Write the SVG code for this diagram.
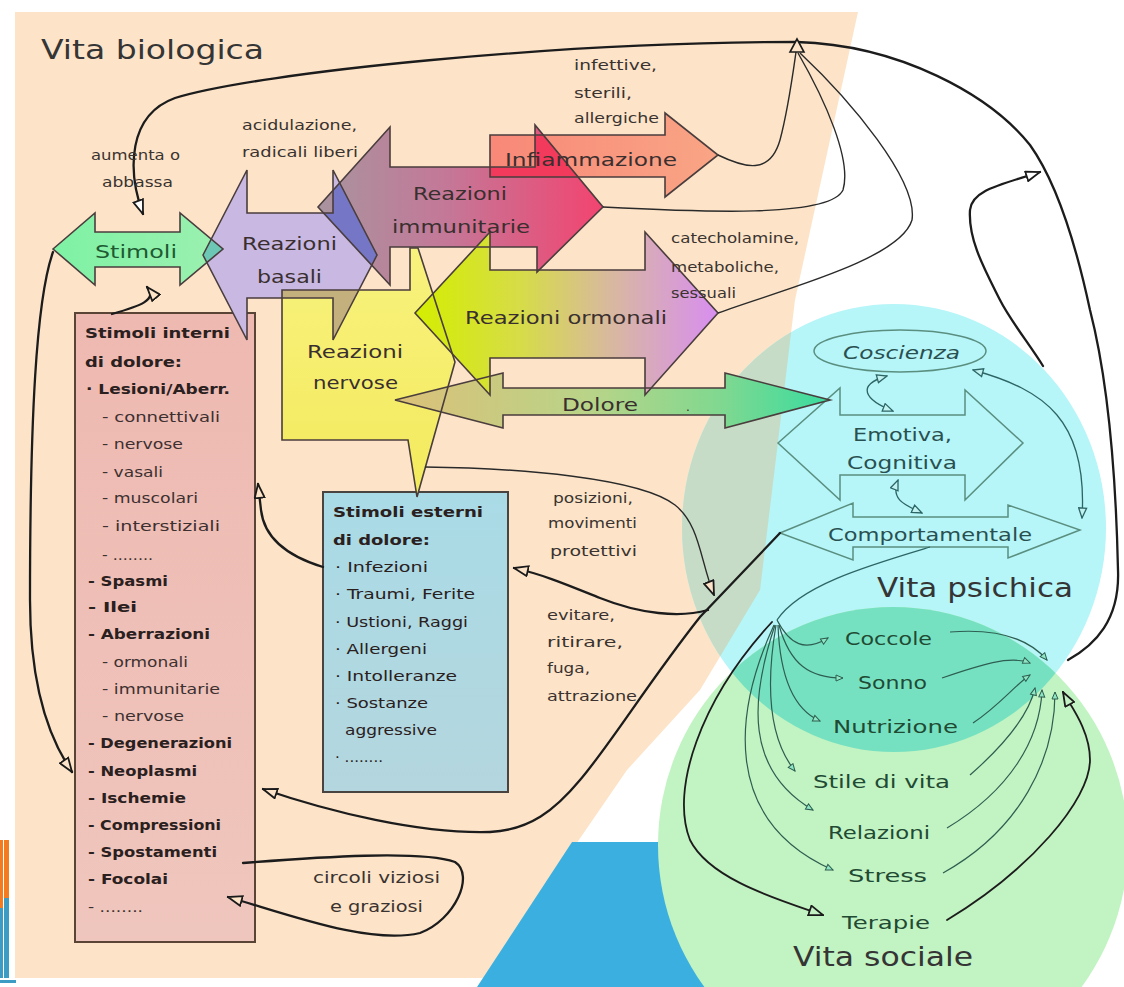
<svg xmlns="http://www.w3.org/2000/svg" width="1124" height="987" viewBox="0 0 1124 987">
<defs>
<style>
.t{font-family:"DejaVu Sans","Liberation Sans",sans-serif}
.big{font-size:27px;fill:#353535}
.lbl{font-size:17px;fill:#3a2f2f}
.sm{font-size:13.5px;fill:#3a3330}
.bx{font-size:14px;fill:#2a2020}
.b{font-weight:bold}
.sub{font-size:13.5px;fill:#3d3030}
.psy{font-size:17px;fill:#295050}
.soc{font-size:17px;fill:#1f4a33}
.ol{fill:none;stroke:#4a3d3d;stroke-width:1.6;stroke-linejoin:miter}
.pol{fill:none;stroke:#5a8f80;stroke-width:1.5}
.con{fill:none;stroke:#1c1c1c;stroke-width:2.3;stroke-linecap:round}
.thin{fill:none;stroke:#2a2a2a;stroke-width:1.4}
.tl{fill:none;stroke:#2d6565;stroke-width:1.3}
.sl{fill:none;stroke:#2e5e50;stroke-width:1.2}
</style>
<linearGradient id="gImm" gradientUnits="userSpaceOnUse" x1="318" y1="0" x2="603" y2="0"><stop offset="0" stop-color="#a8949e"/><stop offset="0.45" stop-color="#c47898"/><stop offset="1" stop-color="#f24470"/></linearGradient>
<linearGradient id="gInf" gradientUnits="userSpaceOnUse" x1="490" y1="0" x2="718" y2="0"><stop offset="0" stop-color="#f88878"/><stop offset="1" stop-color="#f9a585"/></linearGradient>
<linearGradient id="gOrm" gradientUnits="userSpaceOnUse" x1="415" y1="0" x2="718" y2="0"><stop offset="0" stop-color="#d4ee00"/><stop offset="0.35" stop-color="#d6dc48"/><stop offset="0.65" stop-color="#d8b8a0"/><stop offset="1" stop-color="#d88ef0"/></linearGradient>
<linearGradient id="gDol" gradientUnits="userSpaceOnUse" x1="395" y1="0" x2="830" y2="0"><stop offset="0" stop-color="#dcc078"/><stop offset="0.45" stop-color="#b8d488"/><stop offset="0.75" stop-color="#80d890"/><stop offset="1" stop-color="#38dca0"/></linearGradient>
<linearGradient id="gYel" x1="0" y1="0" x2="0" y2="1"><stop offset="0" stop-color="#f8f27e"/><stop offset="1" stop-color="#f3ea5c"/></linearGradient>
<linearGradient id="gStim" x1="0" y1="0" x2="1" y2="0"><stop offset="0" stop-color="#7ef2a4"/><stop offset="1" stop-color="#9cf0b0"/></linearGradient>
<linearGradient id="gInt" x1="0" y1="0" x2="0" y2="1"><stop offset="0" stop-color="#eeb9b1"/><stop offset="1" stop-color="#efc6bd"/></linearGradient>
<linearGradient id="gExt" x1="0" y1="0" x2="0" y2="1"><stop offset="0" stop-color="#a9dbe6"/><stop offset="1" stop-color="#b4d6de"/></linearGradient>
<clipPath id="cCyan"><ellipse cx="894" cy="528" rx="212" ry="224"/></clipPath>
<clipPath id="cBas"><polygon points="203,255 247,170 247,213 333,213 333,170 377,255 333,340 333,298 247,298 247,340"/></clipPath>
<clipPath id="cImm"><polygon points="318,207 390,127 390,167 535,167 535,125 603,207 537,272 537,247 390,247 390,285"/></clipPath>
<clipPath id="cYel"><polygon points="282,290 410,290 410,248 418,248 455,362 417,497 408,440 282,440"/></clipPath>
<marker id="mp" viewBox="0 0 16 12" refX="15" refY="6" markerWidth="16" markerHeight="12" orient="auto" markerUnits="userSpaceOnUse"><path d="M1,1L15,6L1,11Z" fill="#fde4c8" stroke="#1a1a1a" stroke-width="1.8"/></marker>
<marker id="mw" viewBox="0 0 16 12" refX="15" refY="6" markerWidth="16" markerHeight="12" orient="auto" markerUnits="userSpaceOnUse"><path d="M1,1L15,6L1,11Z" fill="#ffffff" stroke="#1a1a1a" stroke-width="1.8"/></marker>
<marker id="mg" viewBox="0 0 16 12" refX="15" refY="6" markerWidth="16" markerHeight="12" orient="auto" markerUnits="userSpaceOnUse"><path d="M1,1L15,6L1,11Z" fill="#c4f2c4" stroke="#1a1a1a" stroke-width="1.8"/></marker>
<marker id="mt" viewBox="0 0 12 10" refX="11" refY="5" markerWidth="12" markerHeight="10" orient="auto-start-reverse" markerUnits="userSpaceOnUse"><path d="M1,1L11,5L1,9Z" fill="#bff2f0" stroke="#2d6565" stroke-width="1.3"/></marker>
<marker id="ms" viewBox="0 0 9 8" refX="8" refY="4" markerWidth="9" markerHeight="8" orient="auto" markerUnits="userSpaceOnUse"><path d="M1,1L8,4L1,7Z" fill="#8ee6c4" stroke="#2e5e50" stroke-width="1"/></marker>
</defs>

<rect width="1124" height="987" fill="#ffffff"/>

<g id="background">
<polygon points="15,12 858,12 795,300 777,450 760,590 700,690 627,770 484,978 15,978" fill="#fde4c8"/>
<rect x="0" y="840" width="3" height="68" fill="#f47b20"/>
<rect x="0" y="908" width="3" height="70" fill="#3d9cc4"/>
<rect x="4" y="840" width="5" height="58" fill="#f47b20"/>
<rect x="4" y="898" width="5" height="80" fill="#3d9cc4"/>
<rect x="0" y="980" width="16" height="3" fill="#3d9cc4"/>
<polygon points="572,842 720,842 720,987 477,987" fill="#3bb0e0"/>
<ellipse cx="894" cy="528" rx="212" ry="224" fill="#b6f5f8"/>
<polygon points="15,12 858,12 795,300 777,450 760,590 700,690 627,770 484,978 15,978" fill="#c6dcc6" clip-path="url(#cCyan)"/>
<ellipse cx="893" cy="845" rx="235" ry="238" fill="#c2f3c2"/>
<ellipse cx="893" cy="845" rx="235" ry="238" fill="#76e1c1" clip-path="url(#cCyan)"/>
</g>

<g id="stimoli-interni">
<rect x="75" y="313" width="180" height="629" fill="url(#gInt)" stroke="#5a4436" stroke-width="2"/>
<g class="t bx">
<text x="85" y="338" textLength="145" lengthAdjust="spacingAndGlyphs" class="b">Stimoli interni</text>
<text x="85" y="367" textLength="97" lengthAdjust="spacingAndGlyphs" class="b">di dolore:</text>
<text x="86" y="394" textLength="144" lengthAdjust="spacingAndGlyphs" class="b">· Lesioni/Aberr.</text>
<text x="102" y="422" textLength="118" lengthAdjust="spacingAndGlyphs" class="sub">- connettivali</text>
<text x="102" y="449" textLength="81" lengthAdjust="spacingAndGlyphs" class="sub">- nervose</text>
<text x="102" y="477" textLength="61" lengthAdjust="spacingAndGlyphs" class="sub">- vasali</text>
<text x="102" y="503" textLength="96" lengthAdjust="spacingAndGlyphs" class="sub">- muscolari</text>
<text x="102" y="531" textLength="118" lengthAdjust="spacingAndGlyphs" class="sub">- interstiziali</text>
<text x="102" y="560" textLength="51" lengthAdjust="spacingAndGlyphs" class="sub">- ........</text>
<text x="88" y="586" textLength="80" lengthAdjust="spacingAndGlyphs" class="b">- Spasmi</text>
<text x="88" y="612" textLength="49" lengthAdjust="spacingAndGlyphs" class="b">- Ilei</text>
<text x="88" y="639" textLength="122" lengthAdjust="spacingAndGlyphs" class="b">- Aberrazioni</text>
<text x="102" y="667" textLength="86" lengthAdjust="spacingAndGlyphs" class="sub">- ormonali</text>
<text x="102" y="694" textLength="118" lengthAdjust="spacingAndGlyphs" class="sub">- immunitarie</text>
<text x="102" y="721" textLength="82" lengthAdjust="spacingAndGlyphs" class="sub">- nervose</text>
<text x="88" y="748" textLength="144" lengthAdjust="spacingAndGlyphs" class="b">- Degenerazioni</text>
<text x="88" y="776" textLength="109" lengthAdjust="spacingAndGlyphs" class="b">- Neoplasmi</text>
<text x="88" y="803" textLength="98" lengthAdjust="spacingAndGlyphs" class="b">- Ischemie</text>
<text x="88" y="830" textLength="133" lengthAdjust="spacingAndGlyphs" class="b">- Compressioni</text>
<text x="88" y="857" textLength="129" lengthAdjust="spacingAndGlyphs" class="b">- Spostamenti</text>
<text x="88" y="884" textLength="80" lengthAdjust="spacingAndGlyphs" class="b">- Focolai</text>
<text x="88" y="912" textLength="55" lengthAdjust="spacingAndGlyphs" class="sub">- ........</text>
</g>
</g>

<g id="stimoli-esterni">
<rect x="323" y="492" width="185" height="300" fill="url(#gExt)" stroke="#4a4440" stroke-width="2"/>
<g class="t bx">
<text x="333" y="517" textLength="150" lengthAdjust="spacingAndGlyphs" class="b">Stimoli esterni</text>
<text x="333" y="545" textLength="97" lengthAdjust="spacingAndGlyphs" class="b">di dolore:</text>
<text x="335" y="572" textLength="93" lengthAdjust="spacingAndGlyphs">· Infezioni</text>
<text x="335" y="599" textLength="140" lengthAdjust="spacingAndGlyphs">· Traumi, Ferite</text>
<text x="335" y="627" textLength="133" lengthAdjust="spacingAndGlyphs">· Ustioni, Raggi</text>
<text x="335" y="654" textLength="92" lengthAdjust="spacingAndGlyphs">· Allergeni</text>
<text x="335" y="681" textLength="122" lengthAdjust="spacingAndGlyphs">· Intolleranze</text>
<text x="335" y="708" textLength="93" lengthAdjust="spacingAndGlyphs">· Sostanze</text>
<text x="345" y="735" textLength="92" lengthAdjust="spacingAndGlyphs">aggressive</text>
<text x="335" y="762" textLength="48" lengthAdjust="spacingAndGlyphs">· ........</text>
</g>
</g>

<g id="vita-psichica-nodes">
<g id="emotiva">
<polygon points="778,443 840,388 840,415 965,415 965,390 1023,443 965,500 965,475 840,475 840,500" fill="#cdf6d6" class="pol"/>
<text class="t psy" x="853" y="441" textLength="99" lengthAdjust="spacingAndGlyphs">Emotiva,</text>
<text class="t psy" x="847" y="469" textLength="110" lengthAdjust="spacingAndGlyphs">Cognitiva</text>
</g>
<g id="comportamentale">
<polygon points="780,533 853,503 853,517 1008,517 1008,505 1080,530 1008,558 1008,547 853,547 853,560" fill="#cdf6d6" class="pol"/>
<text class="t psy" x="828" y="541" textLength="204" lengthAdjust="spacingAndGlyphs">Comportamentale</text>
</g>
<g id="coscienza">
<ellipse cx="900" cy="351" rx="86" ry="21" fill="#cdf6d6" class="pol"/>
<text class="t psy" x="843" y="359" textLength="117" lengthAdjust="spacingAndGlyphs" font-style="italic">Coscienza</text>
</g>
</g>

<g id="arrow-fills">
<g id="reazioni-nervose"><polygon points="282,290 410,290 410,248 418,248 455,362 417,497 408,440 282,440" fill="url(#gYel)"/></g>
<g id="reazioni-immunitarie"><polygon points="318,207 390,127 390,167 535,167 535,125 603,207 537,272 537,247 390,247 390,285" fill="url(#gImm)"/></g>
<g id="infiammazione"><polygon points="490,135 665,135 665,113 718,155 665,197 665,177 490,177" fill="url(#gInf)"/></g>
<g id="reazioni-basali"><polygon points="203,255 247,170 247,213 333,213 333,170 377,255 333,340 333,298 247,298 247,340" fill="#c8b8e2"/></g>
<g id="stimoli"><polygon points="53,249 95,213 95,232 180,232 180,213 223,249 180,285 180,267 95,267 95,285" fill="url(#gStim)"/></g>
<g id="dolore"><polygon points="395,400 503,373 503,388 725,388 725,373 830,400 725,428 725,415 503,415 503,428" fill="url(#gDol)"/></g>
<g id="reazioni-ormonali"><polygon points="415,313 490,232 490,270 645,270 645,232 718,313 645,395 645,358 490,358 490,395" fill="url(#gOrm)"/></g>
</g>

<g id="arrow-overlaps">
<polygon points="53,249 95,213 95,232 180,232 180,213 223,249 180,285 180,267 95,267 95,285" fill="#6cc8b4" clip-path="url(#cBas)"/>
<polygon points="203,255 247,170 247,213 333,213 333,170 377,255 333,340 333,298 247,298 247,340" fill="#7676c6" clip-path="url(#cImm)"/>
<polygon points="203,255 247,170 247,213 333,213 333,170 377,255 333,340 333,298 247,298 247,340" fill="#c4b07c" clip-path="url(#cYel)"/>
<polygon points="490,135 665,135 665,113 718,155 665,197 665,177 490,177" fill="#f23a5c" clip-path="url(#cImm)"/>
</g>

<g id="arrow-outlines">
<polygon class="ol" points="282,290 410,290 410,248 418,248 455,362 417,497 408,440 282,440"/>
<polygon class="ol" points="318,207 390,127 390,167 535,167 535,125 603,207 537,272 537,247 390,247 390,285"/>
<polygon class="ol" points="490,135 665,135 665,113 718,155 665,197 665,177 490,177"/>
<polygon class="ol" points="203,255 247,170 247,213 333,213 333,170 377,255 333,340 333,298 247,298 247,340"/>
<polygon class="ol" points="53,249 95,213 95,232 180,232 180,213 223,249 180,285 180,267 95,267 95,285"/>
<polygon class="ol" points="395,400 503,373 503,388 725,388 725,373 830,400 725,428 725,415 503,415 503,428"/>
<polygon class="ol" points="415,313 490,232 490,270 645,270 645,232 718,313 645,395 645,358 490,358 490,395"/>
</g>

<g id="arrow-labels" class="t lbl">
<text x="95" y="258" textLength="82" lengthAdjust="spacingAndGlyphs" fill="#1e5a32">Stimoli</text>
<text x="242" y="250" textLength="95" lengthAdjust="spacingAndGlyphs">Reazioni</text>
<text x="257" y="283" textLength="65" lengthAdjust="spacingAndGlyphs">basali</text>
<text x="413" y="200" textLength="94" lengthAdjust="spacingAndGlyphs">Reazioni</text>
<text x="392" y="233" textLength="138" lengthAdjust="spacingAndGlyphs">immunitarie</text>
<text x="505" y="166" textLength="172" lengthAdjust="spacingAndGlyphs">Infiammazione</text>
<text x="465" y="324" textLength="202" lengthAdjust="spacingAndGlyphs">Reazioni ormonali</text>
<text x="307" y="358" textLength="96" lengthAdjust="spacingAndGlyphs">Reazioni</text>
<text x="313" y="389" textLength="85" lengthAdjust="spacingAndGlyphs">nervose</text>
<text x="562" y="411" textLength="76" lengthAdjust="spacingAndGlyphs">Dolore</text>
<text x="686" y="411" font-size="12">.</text>
</g>

<g id="social-items" class="t soc">
<text x="845" y="645" textLength="87" lengthAdjust="spacingAndGlyphs">Coccole</text>
<text x="858" y="689" textLength="69" lengthAdjust="spacingAndGlyphs">Sonno</text>
<text x="833" y="733" textLength="125" lengthAdjust="spacingAndGlyphs">Nutrizione</text>
<text x="813" y="788" textLength="137" lengthAdjust="spacingAndGlyphs">Stile di vita</text>
<text x="828" y="839" textLength="102" lengthAdjust="spacingAndGlyphs">Relazioni</text>
<text x="848" y="882" textLength="79" lengthAdjust="spacingAndGlyphs">Stress</text>
<text x="842" y="929" textLength="88" lengthAdjust="spacingAndGlyphs">Terapie</text>
</g>

<g id="connectors">
<path class="con" d="M1068,660 C1095,645 1120,620 1118,570 C1116,480 1108,380 1090,310 C1075,240 1055,180 1030,145 C990,95 900,45 797,42 C560,42 260,72 175,98 C128,115 127,170 143,214" marker-end="url(#mw)"/>
<path class="con" d="M1043,366 C1030,345 1010,320 1000,300 C985,270 968,240 970,210 C972,190 1000,185 1040,172" marker-end="url(#mw)"/>
<path class="thin" d="M718,155 C745,168 770,175 780,140 C788,110 792,80 796,52"/>
<path class="thin" d="M603,207 C700,212 830,218 843,190 C852,160 825,100 798,53"/>
<path class="thin" d="M718,313 C780,290 900,260 912,220 C918,180 850,100 800,53"/>
<polygon points="797,39 790,52 804,52" fill="#fde4c8" stroke="#1a1a1a" stroke-width="1.6"/>
<path class="con" d="M112,314 C140,306 158,300 147,287" marker-end="url(#mp)"/>
<path class="con" d="M53,252 C36,300 30,420 30,600 C30,690 50,740 72,772" marker-end="url(#mp)"/>
<path class="con" d="M323,567 C300,560 265,545 261,510 L258,484" marker-end="url(#mp)"/>
<path class="thin" d="M425,467 C520,468 640,478 675,505 C700,525 700,560 714,595" marker-end="url(#mp)"/>
<path class="con" d="M708,610 C680,618 640,614 600,598 C570,586 545,575 514,568" marker-end="url(#mp)"/>
<path class="con" d="M780,533 L700,617 C650,680 610,745 580,780 C555,810 530,830 490,832 C420,834 330,812 263,789" marker-end="url(#mp)"/>
<path class="con" d="M243,863 C320,857 420,850 455,862 C475,875 455,920 420,933 C370,945 290,915 228,897" marker-end="url(#mp)"/>
<path class="tl" d="M887,376 C855,385 865,400 893,411" marker-start="url(#mt)" marker-end="url(#mt)"/>
<path class="tl" d="M898,480 C890,500 905,505 922,513" marker-start="url(#mt)" marker-end="url(#mt)"/>
<path class="tl" d="M973,370 C1045,390 1088,420 1082,518" marker-start="url(#mt)" marker-end="url(#mt)"/>
<path class="tl" d="M930,547 C870,565 800,585 777,620"/>
<path class="sl" d="M777,620 C790,645 805,652 828,638" marker-end="url(#ms)"/>
<path class="sl" d="M779,625 C790,665 810,678 843,678" marker-end="url(#ms)"/>
<path class="sl" d="M778,625 C780,680 795,710 820,721" marker-end="url(#ms)"/>
<path class="sl" d="M776,625 C765,690 770,740 795,771" marker-end="url(#ms)"/>
<path class="sl" d="M775,625 C750,700 745,770 813,810" marker-end="url(#ms)"/>
<path class="sl" d="M774,625 C735,710 720,820 833,870" marker-end="url(#ms)"/>
<path class="con" style="stroke-width:1.8" d="M772,622 C700,700 670,790 690,840 C710,880 780,900 823,915" marker-end="url(#mg)"/>
<path class="sl" d="M950,632 C1000,628 1030,640 1047,660" marker-end="url(#ms)"/>
<path class="sl" d="M942,678 C980,665 1010,655 1030,663" marker-end="url(#ms)"/>
<path class="sl" d="M973,723 C1000,705 1015,685 1030,675" marker-end="url(#ms)"/>
<path class="sl" d="M970,775 C1010,740 1030,710 1035,688" marker-end="url(#ms)"/>
<path class="sl" d="M947,828 C1010,790 1040,740 1042,690" marker-end="url(#ms)"/>
<path class="sl" d="M943,873 C1020,830 1055,760 1055,692" marker-end="url(#ms)"/>
<path class="con" style="stroke-width:1.8" d="M947,920 C1030,870 1090,800 1090,760 C1090,730 1070,705 1063,692" marker-end="url(#mg)"/>
</g>

<g id="labels" class="t">
<text class="big" x="41" y="59" textLength="223" lengthAdjust="spacingAndGlyphs">Vita biologica</text>
<text class="big" x="877" y="597" textLength="196" lengthAdjust="spacingAndGlyphs" fill="#264848" font-size="26">Vita psichica</text>
<text class="big" x="793" y="966" textLength="180" lengthAdjust="spacingAndGlyphs" fill="#1f3f2a" font-size="26">Vita sociale</text>
<g class="sm">
<text x="91" y="160" textLength="89" lengthAdjust="spacingAndGlyphs">aumenta o</text>
<text x="102" y="187" textLength="71" lengthAdjust="spacingAndGlyphs">abbassa</text>
<text x="242" y="130" textLength="115" lengthAdjust="spacingAndGlyphs">acidulazione,</text>
<text x="242" y="157" textLength="116" lengthAdjust="spacingAndGlyphs">radicali liberi</text>
<text x="574" y="70" textLength="83" lengthAdjust="spacingAndGlyphs">infettive,</text>
<text x="574" y="98" textLength="58" lengthAdjust="spacingAndGlyphs">sterili,</text>
<text x="574" y="123" textLength="85" lengthAdjust="spacingAndGlyphs">allergiche</text>
<text x="671" y="243" textLength="128" lengthAdjust="spacingAndGlyphs">catecholamine,</text>
<text x="671" y="272" textLength="108" lengthAdjust="spacingAndGlyphs">metaboliche,</text>
<text x="671" y="298" textLength="65" lengthAdjust="spacingAndGlyphs">sessuali</text>
<text x="553" y="503" textLength="80" lengthAdjust="spacingAndGlyphs">posizioni,</text>
<text x="548" y="528" textLength="89" lengthAdjust="spacingAndGlyphs">movimenti</text>
<text x="550" y="556" textLength="87" lengthAdjust="spacingAndGlyphs">protettivi</text>
<text x="547" y="620" textLength="68" lengthAdjust="spacingAndGlyphs">evitare,</text>
<text x="547" y="647" textLength="76" lengthAdjust="spacingAndGlyphs">ritirare,</text>
<text x="547" y="673" textLength="43" lengthAdjust="spacingAndGlyphs">fuga,</text>
<text x="547" y="701" textLength="90" lengthAdjust="spacingAndGlyphs">attrazione</text>
<text x="313" y="883" textLength="127" lengthAdjust="spacingAndGlyphs" font-size="15">circoli viziosi</text>
<text x="330" y="912" textLength="93" lengthAdjust="spacingAndGlyphs" font-size="15">e graziosi</text>
</g>
</g>
</svg>
